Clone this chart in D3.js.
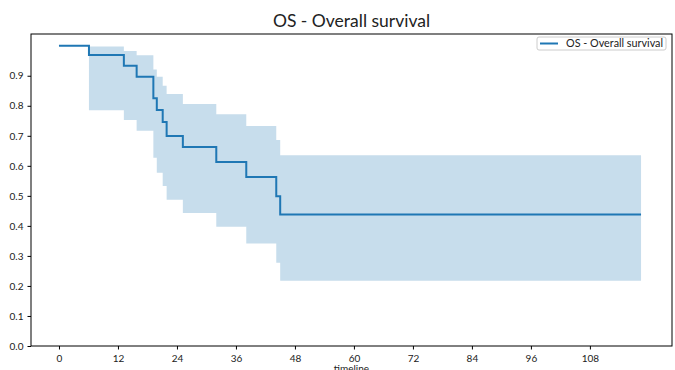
<!DOCTYPE html>
<html>
<head>
<meta charset="utf-8">
<script src="https://cdn.jsdelivr.net/npm/d3@7"></script>
<style>
  body { margin: 0; background: #fff; }
  text { font-family: Lato, "Open Sans", sans-serif; fill: #222; }
</style>
</head>
<body>
<div id="chart"></div>
<script>
// Kaplan-Meier estimate (step changes)
const times = [0, 6.1, 13.2, 15.8, 19.2, 19.9, 21.1, 21.9, 25.2, 32.0, 38.1, 44.2, 45.0, 118.4];
const survival = [1.0, 0.969, 0.933, 0.897, 0.825, 0.786, 0.746, 0.699, 0.663, 0.613, 0.563, 0.499, 0.438, 0.438];
const upper = [1.0, 0.997, 0.982, 0.968, 0.921, 0.897, 0.867, 0.839, 0.806, 0.772, 0.733, 0.686, 0.635, 0.635];
const lower = [1.0, 0.785, 0.753, 0.717, 0.627, 0.577, 0.533, 0.487, 0.443, 0.397, 0.341, 0.277, 0.217, 0.217];
const xTicks = [0, 12, 24, 36, 48, 60, 72, 84, 96, 108];
const yTicks = [0, 0.1, 0.2, 0.3, 0.4, 0.5, 0.6, 0.7, 0.8, 0.9];
const title = "OS - Overall survival";
const label = "OS - Overall survival";

const W = 675, H = 370;
const m = {left: 31, right: 3, top: 34, bottom: 24};
const blue = "#1f77b4";

const svg = d3.select("#chart").append("svg")
  .attr("width", W).attr("height", H);

const x = d3.scaleLinear()
  .domain([-5.69, 124.7])
  .range([m.left, W - m.right]);
const y = d3.scaleLinear()
  .domain([0, 1.039])
  .range([H - m.bottom, m.top]);

const pts = times.map((t, i) => ({t: t, s: survival[i], hi: upper[i], lo: lower[i]}));

// confidence band
svg.append("path")
  .datum(pts)
  .attr("fill", blue)
  .attr("fill-opacity", 0.25)
  .attr("d", d3.area()
    .x(d => x(d.t))
    .y0(d => y(d.lo))
    .y1(d => y(d.hi))
    .curve(d3.curveStepAfter));

// survival line
svg.append("path")
  .datum(pts)
  .attr("fill", "none")
  .attr("stroke", blue)
  .attr("stroke-width", 2)
  .attr("d", d3.line()
    .x(d => x(d.t))
    .y(d => y(d.s))
    .curve(d3.curveStepAfter));

// axes
const xAxis = svg.append("g")
  .attr("transform", `translate(0,${H - m.bottom})`)
  .call(d3.axisBottom(x).tickValues(xTicks).tickSize(3.5).tickSizeOuter(0));
const yAxis = svg.append("g")
  .attr("transform", `translate(${m.left},0)`)
  .call(d3.axisLeft(y).tickValues(yTicks).tickFormat(d3.format(".1f")).tickSize(3.5).tickSizeOuter(0));
[xAxis, yAxis].forEach(g => {
  g.select(".domain").remove();
  g.selectAll("line").attr("stroke", "#000");
  g.selectAll("text").attr("font-size", 10).attr("font-family", "Lato, sans-serif").attr("fill", "#222");
});
xAxis.selectAll("text").attr("dy", "0.9em");
yAxis.selectAll("text").attr("dx", "-1");

// frame
svg.append("rect")
  .attr("x", m.left).attr("y", m.top)
  .attr("width", W - m.left - m.right)
  .attr("height", H - m.top - m.bottom)
  .attr("fill", "none").attr("stroke", "#000").attr("stroke-width", 1);

// title & axis label
svg.append("text")
  .attr("x", (m.left + W - m.right) / 2).attr("y", 27)
  .attr("text-anchor", "middle").attr("font-size", 17.5)
  .text(title);
svg.append("text")
  .attr("x", (m.left + W - m.right) / 2).attr("y", 372)
  .attr("text-anchor", "middle").attr("font-size", 10)
  .text("timeline");

// legend
const lg = svg.append("g");
lg.append("rect")
  .attr("x", 537).attr("y", 37).attr("width", 129).attr("height", 13)
  .attr("rx", 2).attr("fill", "#fff").attr("stroke", "#ccc");
lg.append("line")
  .attr("x1", 540).attr("x2", 558).attr("y1", 43.5).attr("y2", 43.5)
  .attr("stroke", blue).attr("stroke-width", 2);
lg.append("text")
  .attr("x", 566).attr("y", 47).attr("font-size", 10.8)
  .text(label);
</script>
</body>
</html>
